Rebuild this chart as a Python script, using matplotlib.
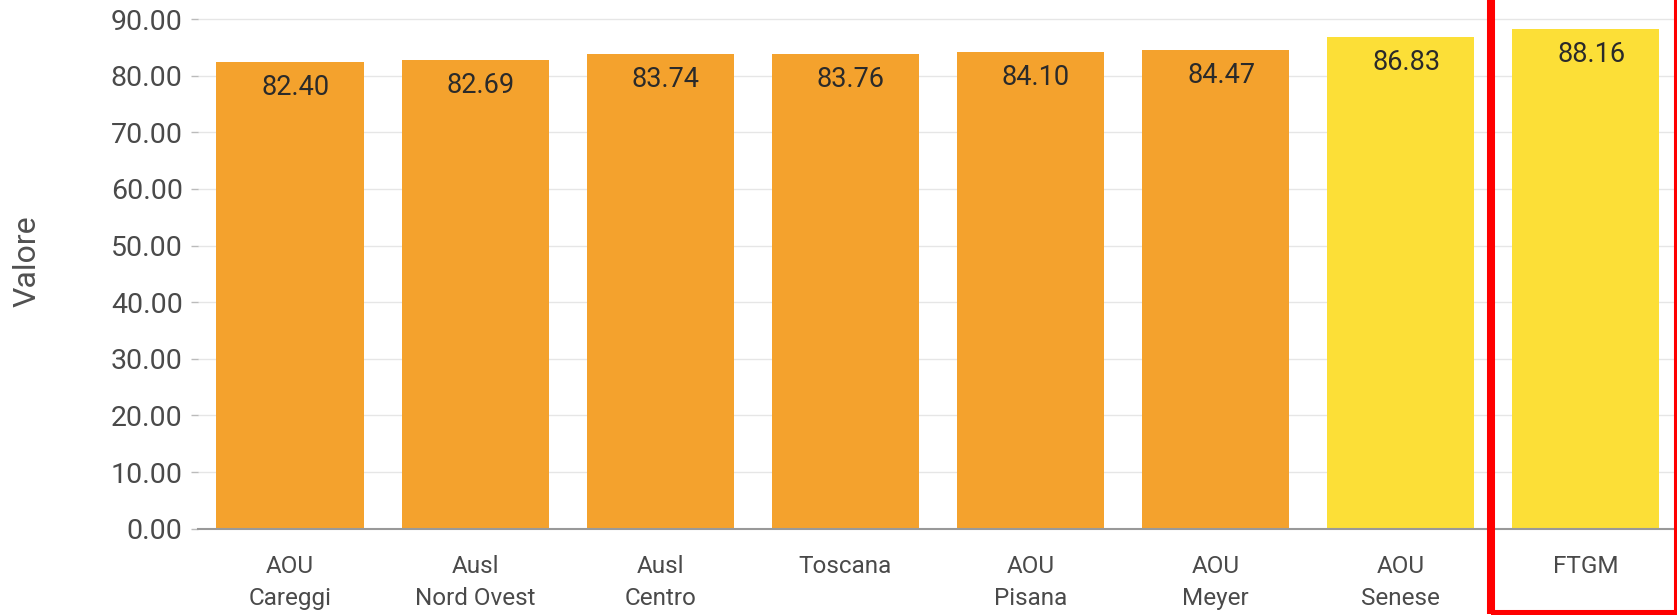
import matplotlib
matplotlib.use("Agg")
import matplotlib.pyplot as plt
from matplotlib.patches import Rectangle
import matplotlib.transforms as mtransforms

categories = ["AOU\nCareggi", "Ausl\nNord Ovest", "Ausl\nCentro", "Toscana",
              "AOU\nPisana", "AOU\nMeyer", "AOU\nSenese", "FTGM"]
values = [82.40, 82.69, 83.74, 83.76, 84.10, 84.47, 86.83, 88.16]
bar_colors = ["#F4A22D"] * 6 + ["#FCDF37"] * 2
yticks = [0, 10, 20, 30, 40, 50, 60, 70, 80, 90]
highlight_index = 7

plt.rcParams['font.family'] = ['Roboto', 'DejaVu Sans']

W, H = 1677, 615
fig = plt.figure(figsize=(W / 100, H / 100), dpi=100)
ax = fig.add_axes([198 / W, 1 - 528.7 / H, 1 - 198 / W, 528.7 / H])

x = list(range(len(categories)))
ax.bar(x, values, width=0.795, color=bar_colors, zorder=2)

for xi, v in zip(x, values):
    ax.text(xi + 0.03, v - 4.5, f"{v:.2f}", ha="center", va="center",
            fontsize=19.5, color="#2A2A2A", zorder=3)

ax.set_xlim(-0.497, 7.493)
ax.set_ylim(0, 93.36)
ax.set_yticks(yticks)
ax.set_yticklabels([f"{t:.2f}" for t in yticks], fontsize=20.5, color="#4A4A4A")
ax.set_xticks(x)
ax.set_xticklabels(categories, fontsize=17.5, color="#4A4A4A", linespacing=1.5)
ax.tick_params(axis="x", length=0, pad=19)
ax.tick_params(axis="y", length=5, width=1, color="#BBBBBB", pad=6)

ax.grid(axis="y", color="#E6E6E6", linewidth=1, zorder=0)
ax.set_axisbelow(True)
for s in ["top", "right", "left"]:
    ax.spines[s].set_visible(False)
ax.spines["bottom"].set_color("#999999")
ax.spines["bottom"].set_linewidth(1.5)

fig.text(27 / W, 1 - 261 / H, "Valore", rotation=90, ha="center", va="center",
         fontsize=23, color="#505050")

trans = mtransforms.blended_transform_factory(ax.transData, fig.transFigure)
rect = Rectangle((highlight_index - 0.512, 0.001), 1.01, 1.2,
                 transform=trans, fill=False, edgecolor="#FF0000",
                 linewidth=5.8, clip_on=False, zorder=5)
fig.patches.append(rect)

fig.savefig("out.png", dpi=100)
